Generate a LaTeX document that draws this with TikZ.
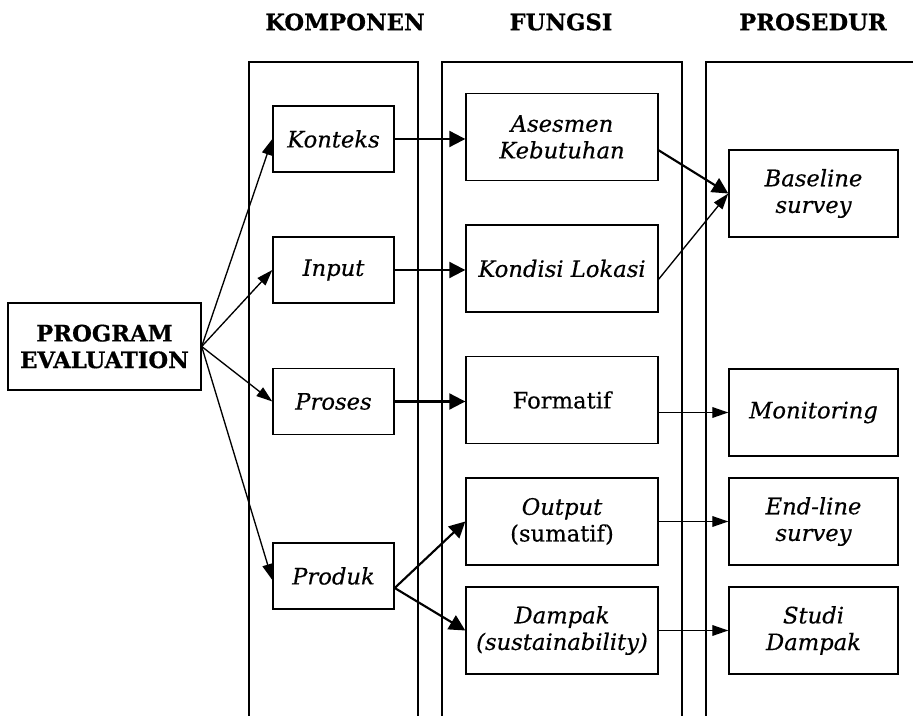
\documentclass[tikz,border=0pt]{standalone}
\usepackage{fontspec}
\setmainfont{DejaVu Serif}[UprightFeatures={FakeBold=0.4},ItalicFeatures={FakeBold=0.4},BoldFeatures={FakeBold=0.6}]
\usetikzlibrary{arrows.meta}
\begin{document}
\begin{tikzpicture}[x=0.75pt,y=-0.75pt,
  every node/.style={font=\fontsize{17}{20}\selectfont},
  box/.style={draw,line width=1.05pt,inner sep=0pt,align=center},
  komp/.style={box,minimum width=90.75pt,minimum height=49.5pt,font=\fontsize{17}{20}\selectfont\itshape},
  fung/.style={box,minimum width=144pt,minimum height=65pt,font=\fontsize{17}{20}\selectfont\itshape},
  pros/.style={box,minimum width=126.75pt,minimum height=65pt,font=\fontsize{17}{20}\selectfont\itshape},
  head/.style={font=\fontsize{17}{20}\selectfont\bfseries},
  col/.style={line width=1.05pt},
  thinarr/.style={line width=1pt,-{Triangle[length=12pt,width=8pt]}},
  thickarr/.style={line width=1.6pt,-{Triangle[length=12pt,width=12pt]}}
]
\useasboundingbox (0,0) rectangle (913,716);
% columns
\draw[col] (249,716) -- (249,62) -- (418,62) -- (418,716);
\draw[col] (442,716) -- (442,62) -- (682,62) -- (682,716);
\draw[col] (706,716) -- (706,62) -- (913,62);
% headers
\node[head] (hk) at (345,22) {KOMPONEN};
\node[head] (hf) at (561,22) {FUNGSI};
\node[head] (hp) at (813,22) {PROSEDUR};
% main
\node[box,minimum width=144.75pt,minimum height=65.25pt,font=\fontsize{17}{20}\selectfont\bfseries] (pe) at (104.5,346.5) {PROGRAM\\EVALUATION};
% komponen
\node[komp] (konteks) at (333.5,139) {Konteks};
\node[komp] (input) at (333.5,270) {Input};
\node[komp] (proses) at (333.5,401.5) {Proses};
\node[komp] (produk) at (333.5,576) {Produk};
% fungsi
\node[fung] (asesmen) at (562,137) {Asesmen\\Kebutuhan};
\node[fung] (kondisi) at (562,268.5) {Kondisi Lokasi};
\node[fung,font=\fontsize{17}{20}\selectfont\upshape] (formatif) at (562,400) {Formatif};
\node[fung] (output) at (562,521.5) {Output\\\upshape(sumatif)};
\node[fung] (dampak) at (562,630.5) {Dampak\\(sustainability)};
% prosedur
\node[pros] (baseline) at (813.5,193.5) {Baseline\\survey};
\node[pros] (monitoring) at (813.5,412.5) {Monitoring};
\node[pros] (endline) at (813.5,521.5) {End-line\\survey};
\node[pros] (studi) at (813.5,630.5) {Studi\\Dampak};
% arrows from program evaluation
\draw[thinarr] (pe.east) -- (konteks.west);
\draw[thinarr] (pe.east) -- (input.west);
\draw[thinarr] (pe.east) -- (proses.west);
\draw[thinarr] (pe.east) -- ([yshift=-3pt]produk.west);
% komponen -> fungsi
\draw[thickarr] (konteks.east) -- (konteks.east -| asesmen.west);
\draw[thickarr] (input.east) -- (input.east -| kondisi.west);
\draw[thickarr] (proses.east) -- (proses.east -| formatif.west);
\draw[thickarr] ([yshift=-9pt]produk.east) -- (output.west);
\draw[thickarr] ([yshift=-9pt]produk.east) -- (dampak.west);
% fungsi -> prosedur
\draw[thickarr] ([yshift=-10pt]asesmen.east) -- (baseline.west);
\draw[thinarr] ([yshift=-8pt]kondisi.east) -- (baseline.west);
\draw[thinarr] (monitoring.west -| formatif.east) -- (monitoring.west);
\draw[thinarr] (output.east) -- (endline.west);
\draw[thinarr] (dampak.east) -- (studi.west);
\end{tikzpicture}
\end{document}
